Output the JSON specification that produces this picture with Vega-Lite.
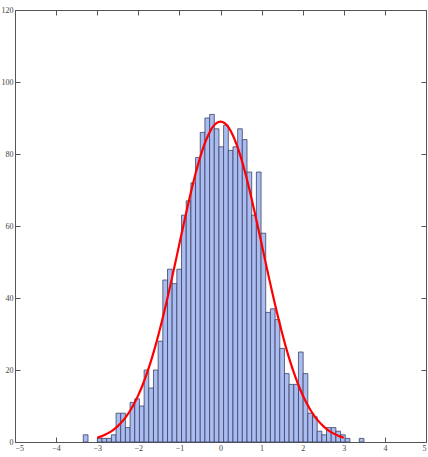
{
  "$schema": "https://vega.github.io/schema/vega-lite/v6.json",
  "autosize": "none",
  "width": 411,
  "height": 432,
  "padding": {"left": 15, "top": 10, "right": 2, "bottom": 15},
  "background": "white",
  "config": {
    "view": {"stroke": "#555555", "strokeWidth": 1},
    "axis": {
      "labelFont": "Liberation Sans Narrow",
      "labelFontSize": 8,
      "labelColor": "#444444",
      "domainColor": "#555555",
      "tickColor": "#555555",
      "grid": false,
      "title": null
    }
  },
  "datasets": {
    "bins": [
      {"x0": -3.338, "x1": -3.224, "count": 2},
      {"x0": -2.996, "x1": -2.883, "count": 1},
      {"x0": -2.883, "x1": -2.769, "count": 1},
      {"x0": -2.769, "x1": -2.655, "count": 1},
      {"x0": -2.655, "x1": -2.541, "count": 2},
      {"x0": -2.541, "x1": -2.428, "count": 8},
      {"x0": -2.428, "x1": -2.314, "count": 8},
      {"x0": -2.314, "x1": -2.200, "count": 4},
      {"x0": -2.200, "x1": -2.086, "count": 11},
      {"x0": -2.086, "x1": -1.972, "count": 12},
      {"x0": -1.972, "x1": -1.858, "count": 10},
      {"x0": -1.858, "x1": -1.745, "count": 20},
      {"x0": -1.745, "x1": -1.631, "count": 15},
      {"x0": -1.631, "x1": -1.517, "count": 20},
      {"x0": -1.517, "x1": -1.403, "count": 28},
      {"x0": -1.403, "x1": -1.289, "count": 45},
      {"x0": -1.289, "x1": -1.176, "count": 48},
      {"x0": -1.176, "x1": -1.062, "count": 44},
      {"x0": -1.062, "x1": -0.948, "count": 48},
      {"x0": -0.948, "x1": -0.834, "count": 63},
      {"x0": -0.834, "x1": -0.720, "count": 67},
      {"x0": -0.720, "x1": -0.607, "count": 72},
      {"x0": -0.607, "x1": -0.493, "count": 79},
      {"x0": -0.493, "x1": -0.379, "count": 86},
      {"x0": -0.379, "x1": -0.265, "count": 90},
      {"x0": -0.265, "x1": -0.151, "count": 91},
      {"x0": -0.151, "x1": -0.038, "count": 87},
      {"x0": -0.038, "x1": 0.076, "count": 82},
      {"x0": 0.076, "x1": 0.190, "count": 88},
      {"x0": 0.190, "x1": 0.304, "count": 81},
      {"x0": 0.304, "x1": 0.418, "count": 82},
      {"x0": 0.418, "x1": 0.531, "count": 87},
      {"x0": 0.531, "x1": 0.645, "count": 84},
      {"x0": 0.645, "x1": 0.759, "count": 75},
      {"x0": 0.759, "x1": 0.873, "count": 63},
      {"x0": 0.873, "x1": 0.987, "count": 75},
      {"x0": 0.987, "x1": 1.100, "count": 58},
      {"x0": 1.100, "x1": 1.214, "count": 36},
      {"x0": 1.214, "x1": 1.328, "count": 37},
      {"x0": 1.328, "x1": 1.442, "count": 34},
      {"x0": 1.442, "x1": 1.556, "count": 26},
      {"x0": 1.556, "x1": 1.669, "count": 19},
      {"x0": 1.669, "x1": 1.783, "count": 16},
      {"x0": 1.783, "x1": 1.897, "count": 16},
      {"x0": 1.897, "x1": 2.011, "count": 25},
      {"x0": 2.011, "x1": 2.125, "count": 19},
      {"x0": 2.125, "x1": 2.238, "count": 8},
      {"x0": 2.238, "x1": 2.352, "count": 7},
      {"x0": 2.352, "x1": 2.466, "count": 3},
      {"x0": 2.466, "x1": 2.580, "count": 2},
      {"x0": 2.580, "x1": 2.694, "count": 4},
      {"x0": 2.694, "x1": 2.807, "count": 4},
      {"x0": 2.807, "x1": 2.921, "count": 3},
      {"x0": 2.921, "x1": 3.035, "count": 2},
      {"x0": 3.035, "x1": 3.149, "count": 1},
      {"x0": 3.377, "x1": 3.490, "count": 1}
    ],
    "curve": [
      {"x": -3.0, "y": 1.18}, {"x": -2.9, "y": 1.56}, {"x": -2.8, "y": 2.06}, {"x": -2.7, "y": 2.68},
      {"x": -2.6, "y": 3.46}, {"x": -2.5, "y": 4.42}, {"x": -2.4, "y": 5.59}, {"x": -2.3, "y": 7.00},
      {"x": -2.2, "y": 8.69}, {"x": -2.1, "y": 10.69}, {"x": -2.0, "y": 13.01}, {"x": -1.9, "y": 15.70},
      {"x": -1.8, "y": 18.76}, {"x": -1.7, "y": 22.19}, {"x": -1.6, "y": 26.00}, {"x": -1.5, "y": 30.19},
      {"x": -1.4, "y": 34.70}, {"x": -1.3, "y": 39.51}, {"x": -1.2, "y": 44.55}, {"x": -1.1, "y": 49.76},
      {"x": -1.0, "y": 55.04}, {"x": -0.9, "y": 60.30}, {"x": -0.8, "y": 65.44}, {"x": -0.7, "y": 70.32},
      {"x": -0.6, "y": 74.86}, {"x": -0.5, "y": 78.92}, {"x": -0.4, "y": 82.41}, {"x": -0.3, "y": 85.23},
      {"x": -0.2, "y": 87.31}, {"x": -0.1, "y": 88.57}, {"x": 0.0, "y": 89.0}, {"x": 0.1, "y": 88.57},
      {"x": 0.2, "y": 87.31}, {"x": 0.3, "y": 85.23}, {"x": 0.4, "y": 82.41}, {"x": 0.5, "y": 78.92},
      {"x": 0.6, "y": 74.86}, {"x": 0.7, "y": 70.32}, {"x": 0.8, "y": 65.44}, {"x": 0.9, "y": 60.30},
      {"x": 1.0, "y": 55.04}, {"x": 1.1, "y": 49.76}, {"x": 1.2, "y": 44.55}, {"x": 1.3, "y": 39.51},
      {"x": 1.4, "y": 34.70}, {"x": 1.5, "y": 30.19}, {"x": 1.6, "y": 26.00}, {"x": 1.7, "y": 22.19},
      {"x": 1.8, "y": 18.76}, {"x": 1.9, "y": 15.70}, {"x": 2.0, "y": 13.01}, {"x": 2.1, "y": 10.69},
      {"x": 2.2, "y": 8.69}, {"x": 2.3, "y": 7.00}, {"x": 2.4, "y": 5.59}, {"x": 2.5, "y": 4.42},
      {"x": 2.6, "y": 3.46}, {"x": 2.7, "y": 2.68}, {"x": 2.8, "y": 2.06}, {"x": 2.9, "y": 1.56},
      {"x": 3.0, "y": 1.18}
    ]
  },
  "resolve": {"axis": {"x": "independent", "y": "independent"}},
  "layer": [
    {
      "data": {"name": "bins"},
      "mark": {"type": "rect", "fill": "#aabdf3", "stroke": "#3d4260", "strokeWidth": 0.8},
      "encoding": {
        "x": {"field": "x0", "type": "quantitative",
              "scale": {"domain": [-5, 5], "nice": false, "zero": false},
              "axis": {"orient": "bottom", "values": [-5,-4,-3,-2,-1,0,1,2,3,4,5], "tickSize": -5, "labelPadding": 7, "domain": false}},
        "x2": {"field": "x1"},
        "y": {"field": "count", "type": "quantitative",
              "scale": {"domain": [0, 120], "nice": false},
              "axis": {"orient": "left", "values": [0,20,40,60,80,100,120], "tickSize": -5, "labelPadding": 7, "domain": false}},
        "y2": {"datum": 0}
      }
    },
    {
      "data": {"name": "curve"},
      "mark": {"type": "line", "color": "#ff0000", "strokeWidth": 2.2, "interpolate": "monotone"},
      "encoding": {
        "x": {"field": "x", "type": "quantitative",
              "axis": {"orient": "top", "values": [-5,-4,-3,-2,-1,0,1,2,3,4,5], "tickSize": -5, "labels": false, "domain": false}},
        "y": {"field": "y", "type": "quantitative",
              "axis": {"orient": "right", "values": [0,20,40,60,80,100,120], "tickSize": -5, "labels": false, "domain": false}}
      }
    }
  ]
}
